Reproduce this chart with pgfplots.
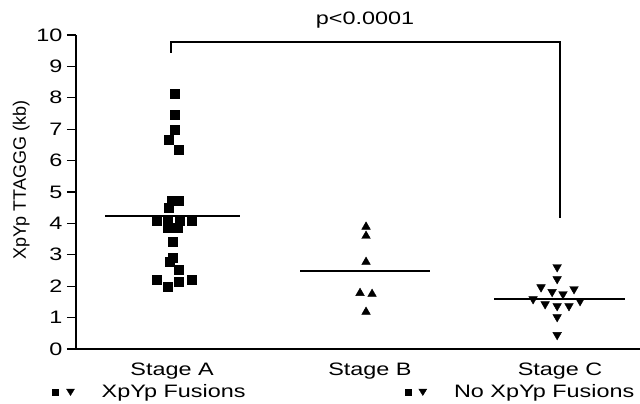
\documentclass[border=0pt]{standalone}
\usepackage{fontspec}
\setmainfont{Liberation Sans}[FakeStretch=1.3]
\newfontfamily\ylabfont{Liberation Sans}
\usepackage{pgfplots}
\pgfplotsset{compat=1.18}
\newcommand\chartfont{\fontsize{18bp}{21bp}\selectfont}
\begin{document}
\begin{tikzpicture}
\begin{axis}[
  name=ax,
  scale only axis, width=564bp, height=314bp,
  xmin=0.505, xmax=3.412, ymin=0, ymax=10,
  axis x line=bottom, axis y line=left,
  axis line style={-, line width=2bp},
  xtick={1,2.02,3}, xticklabels={Stage A, Stage B, Stage C},
  x tick style={draw=none},
  ytick={0,1,...,10},
  tick align=outside, major tick length=9bp,
  y tick style={line width=1.3bp, black},
  tick label style={font=\chartfont},
  /pgf/number format/assume math mode=true,
  yticklabel style={xshift=-1bp},
  xticklabel style={yshift=-1bp},
  label style={font=\chartfont},
  ylabel={\ylabfont XpYp TTAGGG (kb)},
  ylabel style={at={(ticklabel cs:0.538)}},
  clip=false,
  legend columns=2,
  legend style={draw=none, fill=none, font=\chartfont,
    at={(-0.053,-0.137)}, anchor=west,
    /tikz/every even column/.append style={column sep=154bp}},
]
% Stage A
\addplot[only marks, mark=square*, mark size=4.5bp, black, forget plot] coordinates {
 (1.015,8.12) (1.015,7.45) (1.015,6.97) (0.985,6.66) (1.036,6.34)
 (1.000,4.72) (1.036,4.71) (0.985,4.49)
 (0.923,4.08) (0.979,4.08) (1.041,4.08) (1.103,4.08)
 (0.979,3.85) (1.031,3.85) (1.005,3.41)
 (1.005,2.90) (0.990,2.77) (1.036,2.52)
 (0.923,2.20) (0.979,1.97) (1.036,2.13) (1.103,2.20)
};
% Stage B
\addplot[only marks, mark=triangle*, mark size=5bp, black, forget plot] coordinates {
 (2.000,3.89) (2.000,3.60) (2.000,2.77) (1.969,1.78) (2.031,1.75) (2.000,1.18)
};
% Stage C
\addplot[only marks, mark=triangle*, mark size=5bp, mark options={rotate=180}, black, forget plot] coordinates {
 (2.985,2.61) (2.985,2.23) (2.902,1.97) (2.959,1.82) (3.072,1.91) (3.015,1.75)
 (2.861,1.59) (2.923,1.43) (2.985,1.37) (3.046,1.37) (3.103,1.53) (2.985,1.02)
 (2.985,0.45)
};
% means
\addplot[black, line width=2bp, forget plot] coordinates {(0.655,4.24) (1.35,4.24)};
\addplot[black, line width=2bp, forget plot] coordinates {(1.66,2.48) (2.33,2.48)};
\addplot[black, line width=2bp, forget plot] coordinates {(2.66,1.59) (3.335,1.59)};
% bracket
\addplot[black, line width=2bp, forget plot] coordinates {(0.995,9.43) (0.995,9.79) (3.0,9.79) (3.0,4.17)};
\node[font=\chartfont] at (axis cs:1.995,10.48) {p<0.0001};
% legend
\addlegendimage{legend image code/.code={
  \fill[black] (3bp,-3bp) rectangle (9bp,3bp);
  \fill[black] (17bp,3bp) -- (25bp,3bp) -- (21bp,-3.5bp) -- cycle;
  \path (0bp,0bp) (50bp,0bp);}}
\addlegendentry{XpYp Fusions}
\addlegendimage{legend image code/.code={
  \fill[black] (3bp,-3bp) rectangle (9bp,3bp);
  \fill[black] (17bp,3bp) -- (25bp,3bp) -- (21bp,-3.5bp) -- cycle;
  \path (0bp,0bp) (50bp,0bp);}}
\addlegendentry{No XpYp Fusions}
\end{axis}
\pgfresetboundingbox
\path ([shift={(-76bp,-55bp)}]ax.south west) rectangle ([shift={(0bp,35bp)}]ax.north east);
\end{tikzpicture}
\end{document}
